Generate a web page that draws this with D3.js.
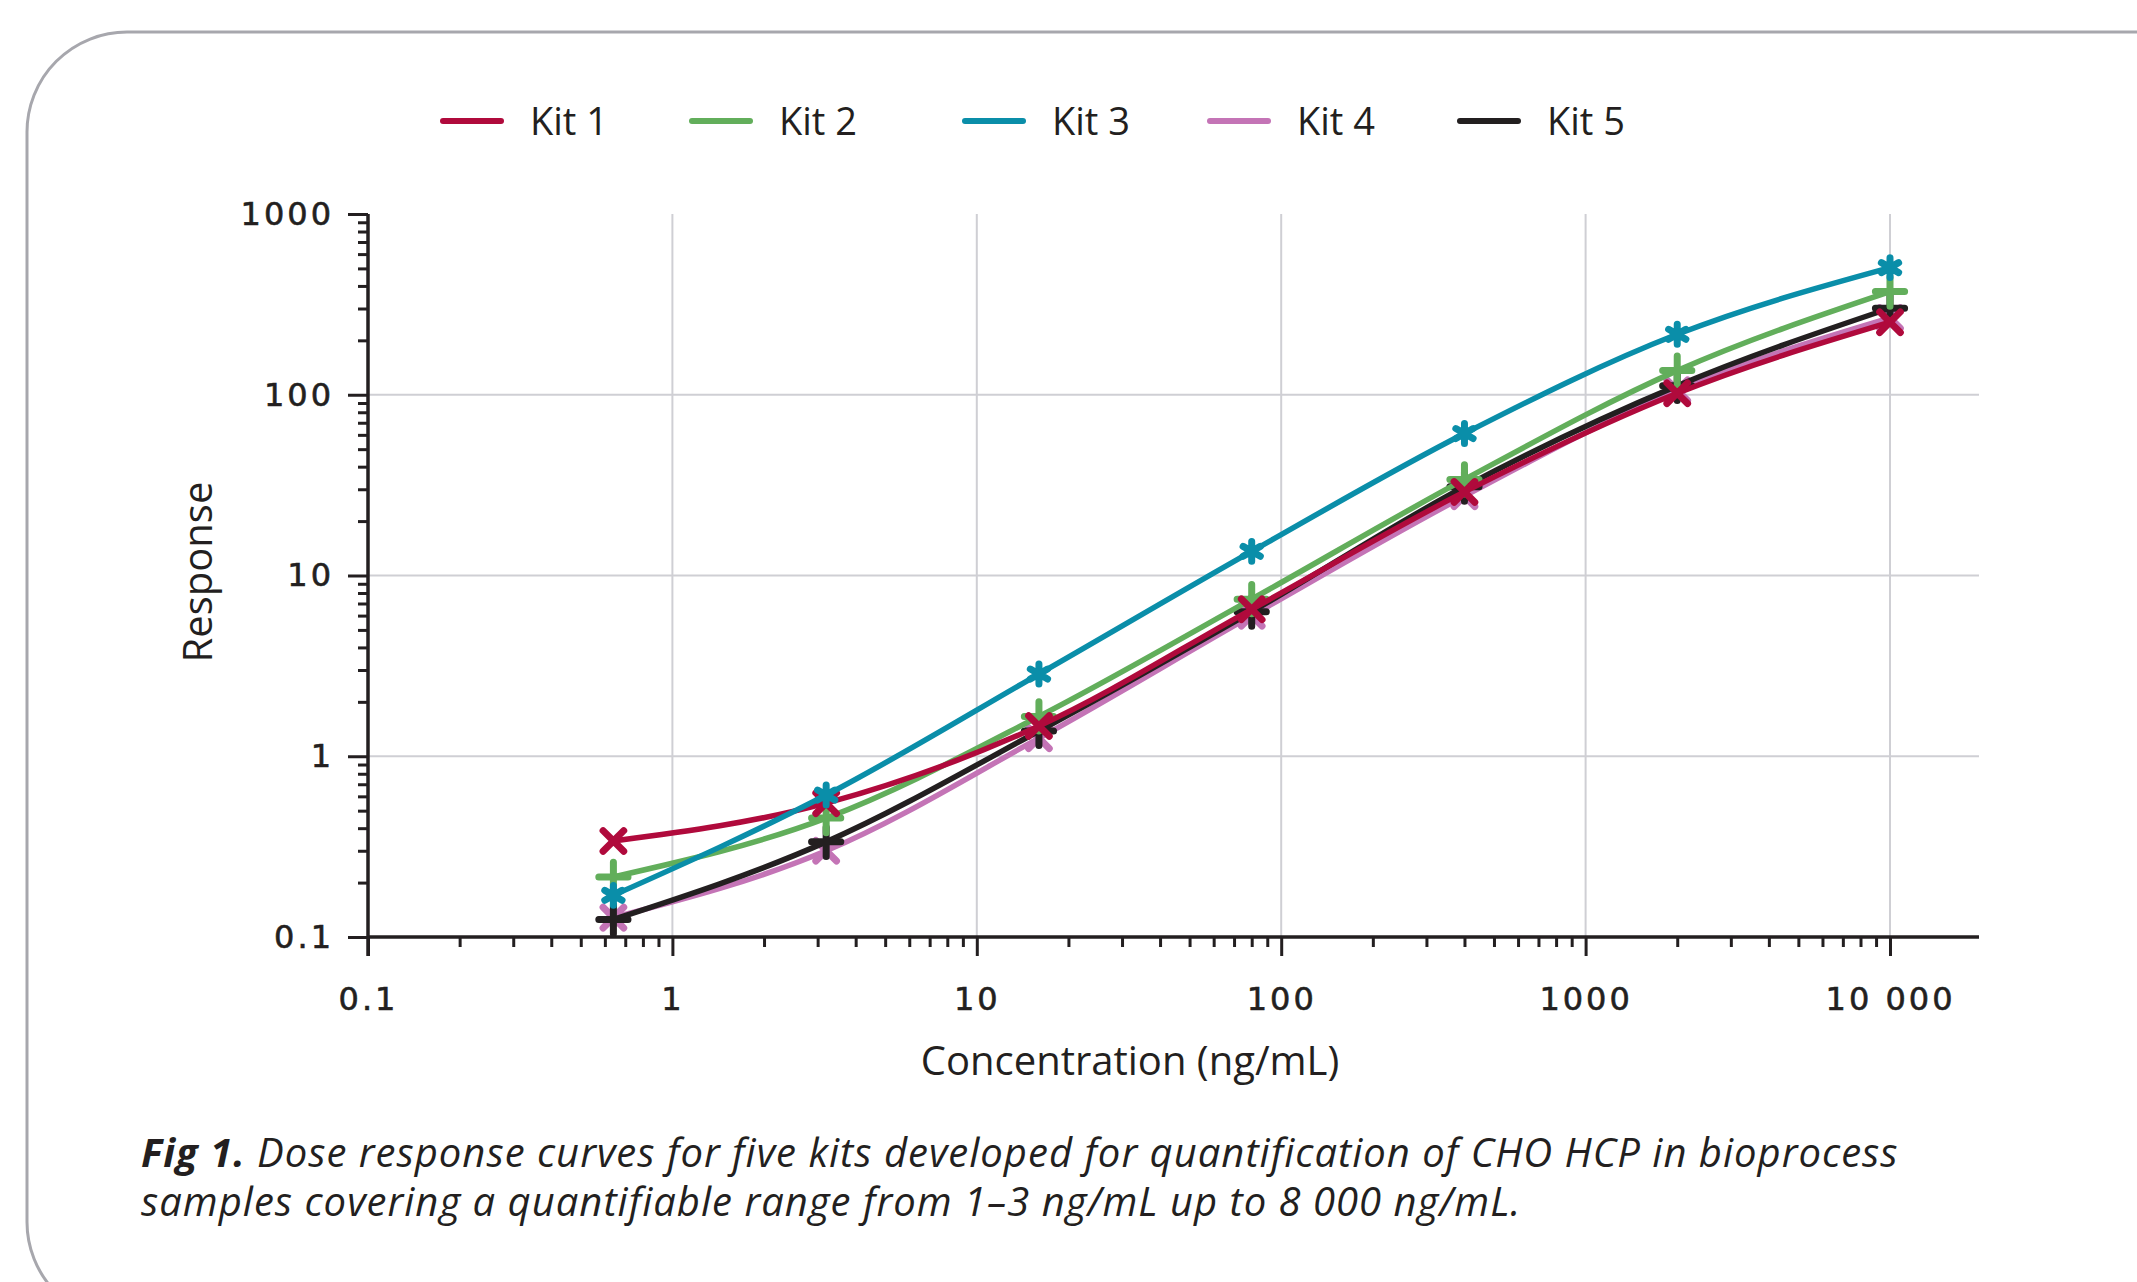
<!DOCTYPE html>
<html>
<head>
<meta charset="utf-8">
<script src="https://cdn.jsdelivr.net/npm/d3@7/dist/d3.min.js"></script>
<style>
body{margin:0;background:#fff;}
svg{display:block;}
.tick text{font-family:"DejaVu Sans",sans-serif;font-size:32px;fill:#231f20;letter-spacing:3px;stroke:#231f20;stroke-width:0.6px;}
.title{font-family:"Open Sans","Noto Sans",sans-serif;font-size:40px;fill:#231f20;}
.legend text{font-family:"Open Sans","Noto Sans",sans-serif;font-size:38px;fill:#231f20;}
.caption{font-family:"Open Sans","Noto Sans",sans-serif;font-size:40px;font-style:italic;fill:#231f20;letter-spacing:1px;}
</style>
</head>
<body>
<script>
// concentrations (ng/mL), 5-fold dilution series
var conc = [0.64, 3.2, 16, 80, 400, 2000, 10000];

// responses
var kit1 = [0.34, 0.55, 1.47, 6.5, 29, 102, 252];
var kit2 = [0.215, 0.455, 1.66, 7.4, 34, 136, 372];
var kit3 = [0.17, 0.61, 2.85, 13.6, 61, 216, 505];
var kit4 = [0.128, 0.30, 1.26, 6.0, 27.5, 106, 266];
var kit5 = [0.125, 0.336, 1.38, 6.3, 31, 112, 301];

var kitNames = ["Kit 1", "Kit 2", "Kit 3", "Kit 4", "Kit 5"];
var kitValues = [kit1, kit2, kit3, kit4, kit5];
var kitColors = ["#b00a3c", "#62ae5b", "#0a8ea9", "#c474b6", "#231f20"];
var kitSymbols = [d3.symbolTimes, d3.symbolPlus, d3.symbolAsterisk, d3.symbolTimes, d3.symbolPlus];

var xTicks = [0.1, 1, 10, 100, 1000, 10000];
var xTickLabels = ["0.1", "1", "10", "100", "1000", "10 000"];
var yTicks = [0.1, 1, 10, 100, 1000];
var yTickLabels = ["0.1", "1", "10", "100", "1000"];

var width = 2137,
    height = 1282;

var plotLeft = 368, plotRight = 1890, gridRight = 1979,
    plotTop = 214, plotBottom = 937;

var legendX = [443, 692, 965, 1210, 1460];

var svg = d3.select("body").append("svg")
    .attr("width", width)
    .attr("height", height);

// rounded frame
svg.append("rect")
    .attr("x", 27).attr("y", 32)
    .attr("width", 2220).attr("height", 1290)
    .attr("rx", 100).attr("ry", 100)
    .attr("fill", "none")
    .attr("stroke", "#a7a7ad")
    .attr("stroke-width", 3);

var x = d3.scaleLog().domain([0.1, 10000]).range([plotLeft, plotRight]);
var y = d3.scaleLog().domain([0.1, 1000]).range([plotBottom, plotTop]);

function minors(lo, hi){
    var out = [];
    for(var p = lo; p < hi; p *= 10){
        for(var k = 2; k <= 9; k++){ out.push(+(p*k).toPrecision(3)); }
    }
    return out;
}

// grid
var grid = svg.append("g").attr("class", "grid");
grid.selectAll(".gx")
    .data(xTicks.slice(1)).enter()
    .append("line")
    .attr("x1", function(d){return x(d);})
    .attr("x2", function(d){return x(d);})
    .attr("y1", plotTop).attr("y2", plotBottom)
    .attr("stroke", "#cfcfd4").attr("stroke-width", 2);
grid.selectAll(".gy")
    .data([1, 10, 100]).enter()
    .append("line")
    .attr("x1", plotLeft).attr("x2", gridRight)
    .attr("y1", function(d){return y(d);})
    .attr("y2", function(d){return y(d);})
    .attr("stroke", "#cfcfd4").attr("stroke-width", 2);

// x axis
svg.append("g")
    .attr("transform", "translate(0," + plotBottom + ")")
    .call(d3.axisBottom(x).tickValues(minors(0.1, 10000)).tickSize(10).tickFormat(""));
svg.append("g")
    .attr("transform", "translate(0," + plotBottom + ")")
    .call(d3.axisBottom(x).tickValues(xTicks).tickSize(19).tickPadding(31)
        .tickFormat(function(d, i){return xTickLabels[i];}));

// y axis
svg.append("g")
    .attr("transform", "translate(" + plotLeft + ",0)")
    .call(d3.axisLeft(y).tickValues(minors(0.1, 1000)).tickSize(10).tickFormat(""));
svg.append("g")
    .attr("transform", "translate(" + plotLeft + ",0)")
    .call(d3.axisLeft(y).tickValues(yTicks).tickSize(20).tickPadding(14)
        .tickFormat(function(d, i){return yTickLabels[i];}));

svg.selectAll(".domain").remove();
svg.selectAll(".tick line").attr("stroke", "#231f20").attr("stroke-width", 3);

svg.append("line")
    .attr("x1", plotLeft).attr("x2", gridRight)
    .attr("y1", plotBottom).attr("y2", plotBottom)
    .attr("stroke", "#231f20").attr("stroke-width", 3.5);
svg.append("line")
    .attr("x1", plotLeft).attr("x2", plotLeft)
    .attr("y1", plotTop).attr("y2", plotBottom + 19)
    .attr("stroke", "#231f20").attr("stroke-width", 3.5);

// titles
svg.append("text")
    .attr("class", "title")
    .attr("x", 1130).attr("y", 1075)
    .attr("text-anchor", "middle")
    .text("Concentration (ng/mL)");
svg.append("text")
    .attr("class", "title")
    .attr("transform", "translate(212,572) rotate(-90)")
    .attr("text-anchor", "middle")
    .text("Response");

// series
var line = d3.line()
    .curve(d3.curveMonotoneX)
    .x(function(d){return x(d[0]);})
    .y(function(d){return y(d[1]);});

var drawOrder = [3, 4, 1, 0, 2];
drawOrder.forEach(function(k){
    var pts = conc.map(function(c, i){return [c, kitValues[k][i]];});
    var g = svg.append("g").attr("class", "series");
    g.append("path")
        .attr("d", line(pts))
        .attr("fill", "none")
        .attr("stroke", kitColors[k])
        .attr("stroke-width", 5.5)
        .attr("stroke-linejoin", "round");
    g.selectAll("path.mark")
        .data(pts).enter()
        .append("path")
        .attr("class", "mark")
        .attr("transform", function(d){return "translate(" + x(d[0]) + "," + y(d[1]) + ")";})
        .attr("d", d3.symbol().type(kitSymbols[k]).size(280))
        .attr("fill", "none")
        .attr("stroke", kitColors[k])
        .attr("stroke-width", 7)
        .attr("stroke-linecap", "round");
});

// legend
var legend = svg.append("g").attr("class", "legend");
var item = legend.selectAll("g")
    .data(kitNames).enter()
    .append("g")
    .attr("transform", function(d, i){return "translate(" + legendX[i] + ",121)";});
item.append("line")
    .attr("x1", 0).attr("x2", 58)
    .attr("stroke", function(d, i){return kitColors[i];})
    .attr("stroke-width", 6)
    .attr("stroke-linecap", "round");
item.append("text")
    .attr("x", 87).attr("dy", "0.36em")
    .text(function(d){return d;});

// caption
var cap1 = svg.append("text").attr("class", "caption").attr("x", 141).attr("y", 1167);
cap1.append("tspan").attr("font-weight", "bold").text("Fig 1.");
cap1.append("tspan").text(" Dose response curves for five kits developed for quantification of CHO HCP in bioprocess");
svg.append("text").attr("class", "caption").attr("x", 141).attr("y", 1216)
    .text("samples covering a quantifiable range from 1\u20133 ng/mL up to 8 000 ng/mL.");
</script>
</body>
</html>
